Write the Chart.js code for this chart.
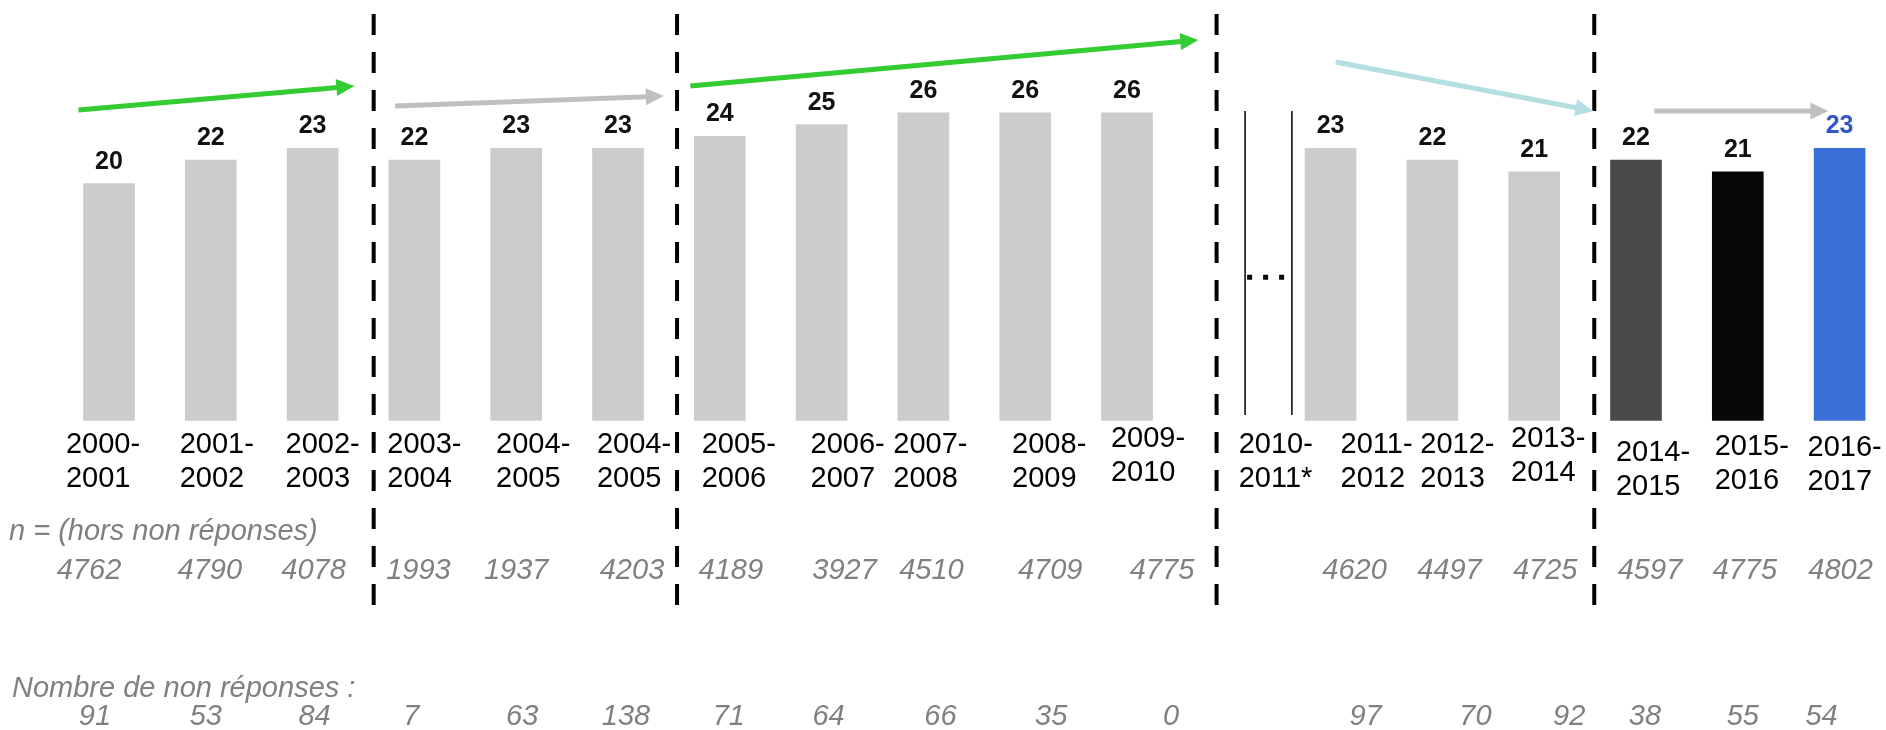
<!DOCTYPE html>
<html>
<head>
<meta charset="utf-8">
<script src="https://cdn.jsdelivr.net/npm/chart.js@4/dist/chart.umd.min.js"></script>
<style>
  html, body { margin: 0; padding: 0; background: #ffffff; }
  #wrap { width: 1886px; height: 730px; position: relative; }
</style>
</head>
<body>
<div id="wrap"><canvas id="chart" width="1886" height="730"></canvas></div>
<script>
// School years (two-line labels)
const periodStart = ['2000-', '2001-', '2002-', '2003-', '2004-', '2004-', '2005-', '2006-', '2007-',
                     '2008-', '2009-', '2010-', '2011-', '2012-', '2013-', '2014-', '2015-', '2016-'];
const periodEnd   = ['2001', '2002', '2003', '2004', '2005', '2005', '2006', '2007', '2008',
                     '2009', '2010', '2011*', '2012', '2013', '2014', '2015', '2016', '2017'];

// Mean score per year (2010-2011 not comparable: no bar)
const meanScores   = [20, 22, 23, 22, 23, 23, 24, 25, 26, 26, 26, null, 23, 22, 21, 22, 21, 23];
// Respondents, excluding non-responses
const sampleSizes  = [4762, 4790, 4078, 1993, 1937, 4203, 4189, 3927, 4510, 4709, 4775, null,
                      4620, 4497, 4725, 4597, 4775, 4802];
// Number of non-responses
const nonResponses = [91, 53, 84, 7, 63, 138, 71, 64, 66, 35, 0, null, 97, 70, 92, 38, 55, 54];

const sampleHeader = 'n = (hors non réponses)';
const nonRespHeader = 'Nombre de non réponses :';

// Bar fills: earlier years grey, last three years highlighted
const barColors = meanScores.map((v, i) =>
  i === 15 ? '#4a4a4a' : i === 16 ? '#080808' : i === 17 ? '#3b6fd8' : '#cccccc');
const valueColors = meanScores.map((v, i) => i === 17 ? '#3157c8' : '#111111');

// Hand-placed text nudges (px) relative to each category centre
const labelShiftX = [-6, 6, 10, 10, 17, 16, 19, 26, 7, 24, 21, 47, 46, 25, 14, 17, 14, 5];
const labelShiftY = [0, 0, 0, 0, 0, 0, 0, 0, 0, 0, -6, 0, 0, 0, -6, 8, 2, 3];
const countShiftX = [-20, -1, 1, 4, 0, 14, 11, 23, 8, 25, 35, 0, 24, 17, 11, 14, 7, 1];
const nonRespShiftX = [-14, -5, 2, -3, 6, 8, 9, 7, 17, 26, 44, 0, 35, 43, 35, 9, 5, -18];

// Method changes: dashed separators, in category units
const methodBreaks = [2.6, 5.58, 10.88, 14.59];
// Trend arrows: [fromIndex, fromValue, toIndex, toValue, colour]
const trendArrows = [
  [-0.30, 26.23, 2.41, 28.26, '#33cc33'],
  [2.81, 26.57, 5.45, 27.41, '#bfbfbf'],
  [5.71, 28.26, 10.70, 32.15, '#33cc33'],
  [12.05, 30.29, 14.58, 26.15, '#b4dfe2'],
  [15.18, 26.15, 16.89, 26.15, '#c0c0c0']
];

const FONT = "'Liberation Sans', Arial, sans-serif";

function drawArrow(ctx, x0, y0, x1, y1, color) {
  const head = 18, half = 8.5;
  const dx = x1 - x0, dy = y1 - y0;
  const len = Math.hypot(dx, dy);
  const ux = dx / len, uy = dy / len;
  const bx = x1 - ux * head, by = y1 - uy * head;
  ctx.save();
  ctx.strokeStyle = color;
  ctx.fillStyle = color;
  ctx.lineWidth = 5;
  ctx.lineCap = 'butt';
  ctx.beginPath();
  ctx.moveTo(x0, y0);
  ctx.lineTo(bx + ux, by + uy);
  ctx.stroke();
  ctx.beginPath();
  ctx.moveTo(x1, y1);
  ctx.lineTo(bx - uy * half, by + ux * half);
  ctx.lineTo(bx + uy * half, by - ux * half);
  ctx.closePath();
  ctx.fill();
  ctx.restore();
}

const decorations = {
  id: 'decorations',
  afterDatasetsDraw(chart) {
    const ctx = chart.ctx;
    const xs = chart.scales.x, ys = chart.scales.y;
    const X = i => xs.getPixelForValue(i);
    const Y = v => ys.getPixelForValue(v);
    const base = Y(0);

    // value labels above bars
    ctx.save();
    ctx.font = 'bold 25px ' + FONT;
    ctx.textAlign = 'center';
    ctx.textBaseline = 'alphabetic';
    meanScores.forEach((v, i) => {
      if (v === null) return;
      ctx.fillStyle = valueColors[i];
      ctx.fillText(String(v), X(i), Y(v) - 15);
    });
    ctx.restore();

    // dashed separators
    ctx.save();
    ctx.strokeStyle = '#000000';
    ctx.lineWidth = 4;
    ctx.setLineDash([21, 17]);
    methodBreaks.forEach(b => {
      ctx.beginPath();
      ctx.moveTo(X(b), Y(34.35));
      ctx.lineTo(X(b), Y(-15.78));
      ctx.stroke();
    });
    ctx.restore();

    // broken-series marker for 2010-2011
    ctx.save();
    ctx.strokeStyle = '#000000';
    ctx.lineWidth = 1.5;
    [11.16, 11.62].forEach(p => {
      ctx.beginPath();
      ctx.moveTo(X(p), Y(26.15));
      ctx.lineTo(X(p), Y(0.45));
      ctx.stroke();
    });
    ctx.lineWidth = 5;
    ctx.setLineDash([5, 11]);
    ctx.beginPath();
    ctx.moveTo(X(11.18), Y(12.1));
    ctx.lineTo(X(11.56), Y(12.1));
    ctx.stroke();
    ctx.restore();

    // trend arrows
    trendArrows.forEach(a => drawArrow(ctx, X(a[0]), Y(a[1]), X(a[2]), Y(a[3]), a[4]));

    // category labels (two lines, left aligned within each block)
    ctx.save();
    ctx.font = '29px ' + FONT;
    ctx.fillStyle = '#000000';
    ctx.textAlign = 'left';
    periodStart.forEach((s, i) => {
      const e = periodEnd[i];
      const w = Math.max(ctx.measureText(s).width, ctx.measureText(e).width);
      const left = X(i) + labelShiftX[i] - w / 2;
      ctx.fillText(s, left, base + 33 + labelShiftY[i]);
      ctx.fillText(e, left, base + 67 + labelShiftY[i]);
    });
    ctx.restore();

    // sample sizes and non-responses
    ctx.save();
    ctx.font = 'italic 29px ' + FONT;
    ctx.fillStyle = '#808080';
    ctx.textAlign = 'left';
    ctx.fillText(sampleHeader, 9, base + 120);
    ctx.fillText(nonRespHeader, 12, base + 277);
    ctx.textAlign = 'center';
    sampleSizes.forEach((n, i) => {
      if (n === null) return;
      ctx.fillText(String(n), X(i) + countShiftX[i], base + 159);
    });
    nonResponses.forEach((n, i) => {
      if (n === null) return;
      ctx.fillText(String(n), X(i) + nonRespShiftX[i], base + 305);
    });
    ctx.restore();
  }
};

new Chart(document.getElementById('chart'), {
  type: 'bar',
  data: {
    labels: periodStart.map((s, i) => s + periodEnd[i]),
    datasets: [{
      data: meanScores,
      backgroundColor: barColors,
      borderWidth: 0,
      barThickness: 51,
      clip: false
    }]
  },
  options: {
    responsive: false,
    maintainAspectRatio: false,
    animation: false,
    devicePixelRatio: 1,
    layout: { padding: { left: 109, right: 46.4, top: 65.4, bottom: 309.7 } },
    plugins: { legend: { display: false }, tooltip: { enabled: false } },
    scales: {
      x: { type: 'category', display: false, offset: false },
      y: { display: false, min: 0, max: 30 }
    }
  },
  plugins: [decorations]
});
</script>
</body>
</html>
